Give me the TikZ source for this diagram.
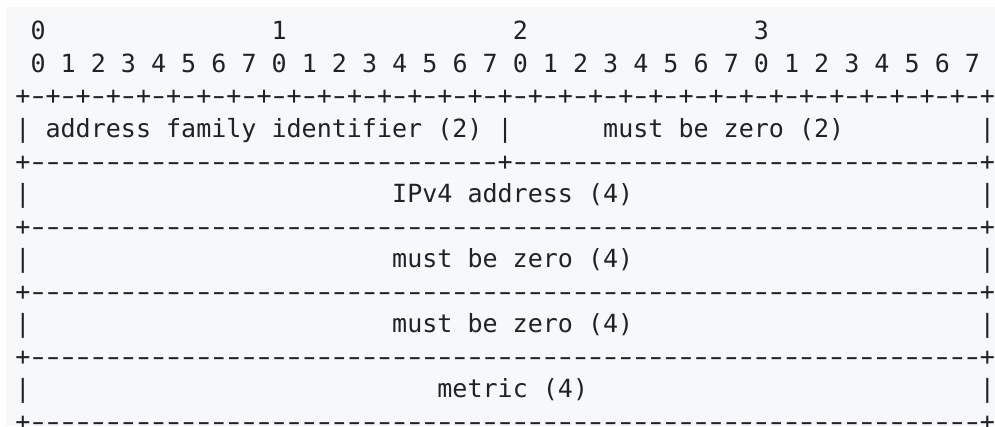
\documentclass[tikz,border=0pt]{standalone}
\usepackage{fontspec}
\usepackage{graphicx}
\newfontfamily\asciifont{DejaVu Sans Mono}
\usetikzlibrary{positioning}

\definecolor{codebg}{HTML}{F6F8FA}
\definecolor{codefg}{HTML}{1F2328}

\tikzset{
  glyph/.style={anchor=base, inner sep=0pt, outer sep=0pt, text=codefg,
    font=\asciifont\fontsize{18.77}{22}\selectfont},
  field/.style={glyph, anchor=base west},
}
% a slightly longer dash, so the rules read as lines
\newcommand\rulechar{\scalebox{1.5}[1]{-}}

\begin{document}
\begin{tikzpicture}[x=0.75pt,y=-0.75pt]
  \clip (0,0) rectangle (995,426);
  \fill[codebg] (6,7) rectangle (995,426);

  % one unit = one character cell, one line of text
  \begin{scope}[shift={(23,39.8)},x=11.3025pt,y=-24.4125pt]
    % byte and bit numbers
    \foreach \b in {0,...,3}
      \node[glyph] (byte\b) at ({1+16*\b},0) {\b};
    \foreach \i in {0,...,31} {
      \pgfmathtruncatemacro\bit{mod(\i,8)}
      \node[glyph] (bit\i) at ({1+2*\i},1) {\bit};
    }

    % ruler under the bit numbers
    \foreach \c in {0,...,64} {
      \ifodd\c \def\ch{\rulechar}\else \def\ch{+}\fi
      \node[glyph] (tick\c) at (\c,2) {\ch};
    }

    % separators between the words
    \foreach \k in {4,6,...,12} {
      \foreach \c in {0,...,64} {
        \def\ch{\rulechar}
        \ifnum\c=0 \def\ch{+}\fi
        \ifnum\c=64 \def\ch{+}\fi
        \ifnum\k=4 \ifnum\c=32 \def\ch{+}\fi\fi
        \node[glyph] (sep\k-\c) at (\c,\k) {\ch};
      }
    }

    % side bars of each word
    \foreach \k in {3,5,...,11} {
      \node[glyph] (left\k) at (0,\k) {|};
      \node[glyph] (right\k) at (64,\k) {|};
    }
    \node[glyph] (mid3) at (32,3) {|};

    % field names
    \node[field] (afi) at (1.5,3) {address family identifier (2)};
    \node[field] (zero2) at (38.5,3) {must be zero (2)};
    \node[field] (ipv4) at (24.5,5) {IPv4 address (4)};
    \node[field] (zeroA) at (24.5,7) {must be zero (4)};
    \node[field] (zeroB) at (24.5,9) {must be zero (4)};
    \node[field] (metric) at (27.5,11) {metric (4)};
  \end{scope}
\end{tikzpicture}
\end{document}
